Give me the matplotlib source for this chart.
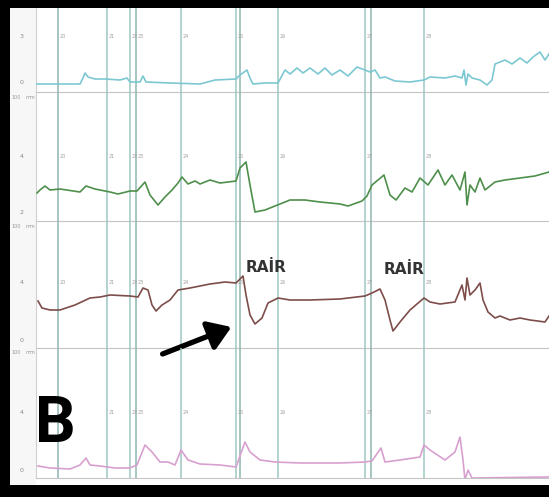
import matplotlib
matplotlib.use("Agg")
import matplotlib.pyplot as plt
import numpy as np

# time axis (s), shared by all four channels
event_t = [22, 71, 94, 100, 145, 200, 204, 242, 329, 335, 388]
event_tags = ["20", "21", "22", "23", "24", "25", "", "26", "27", "", "28"]

# channel 1 (cyan)
ch1_t = [0, 14, 44, 47, 49, 52, 59, 69, 84, 91, 94, 104, 107, 110, 134, 164, 179, 200, 204,
         211, 214, 217, 229, 242, 249, 254, 261, 267, 274, 282, 289, 296, 304, 312, 321, 329,
         334, 339, 344, 349, 359, 374, 388, 394, 409, 419, 426, 428, 430, 432, 436, 444, 451,
         456, 459, 469, 476, 484, 491, 497, 504, 509, 513]
ch1_p = [8, 8, 8, 14, 19, 15, 13, 13, 12, 14, 10, 10, 16, 10, 9, 8, 12, 13, 17,
         22, 14, 8, 9, 9, 22, 18, 24, 19, 24, 18, 24, 17, 22, 16, 25, 22,
         20, 22, 14, 15, 11, 10, 12, 15, 14, 16, 14, 22, 7, 18, 14, 12, 7,
         12, 28, 32, 28, 34, 29, 35, 40, 32, 38]

# channel 2 (green)
ch2_t = [1, 4, 9, 14, 24, 44, 50, 59, 74, 82, 94, 101, 109, 114, 122, 129, 136, 142, 146,
         152, 159, 164, 174, 184, 200, 204, 210, 214, 219, 229, 239, 254, 269, 284, 304, 312,
         326, 331, 336, 348, 354, 360, 369, 376, 384, 392, 402, 409, 416, 424, 429, 431, 434,
         439, 444, 449, 459, 469, 484, 499, 513]
ch2_p = [28, 31, 35, 31, 32, 29, 35, 32, 29, 27, 30, 30, 39, 26, 16, 24, 31, 38, 44,
         37, 40, 37, 41, 38, 40, 53, 59, 36, 9, 11, 15, 21, 21, 19, 17, 15,
         20, 25, 36, 46, 26, 21, 33, 29, 43, 36, 51, 36, 46, 31, 49, 16, 36,
         29, 43, 31, 39, 41, 43, 45, 49]

# channel 3 (brown)
ch3_t = [2, 6, 14, 24, 39, 54, 64, 74, 94, 102, 107, 112, 116, 120, 126, 134, 142, 154, 174,
         189, 200, 207, 210, 214, 219, 226, 232, 242, 254, 274, 304, 329, 336, 344, 349, 354,
         357, 364, 374, 388, 394, 404, 419, 426, 429, 431, 434, 439, 444, 447, 452, 459, 464,
         474, 484, 494, 509, 513]
ch3_p = [47, 40, 38, 38, 43, 50, 51, 53, 52, 51, 60, 58, 43, 37, 43, 48, 58, 60, 64,
         66, 65, 72, 53, 33, 24, 30, 45, 50, 48, 48, 49, 52, 55, 59, 48, 28,
         17, 26, 38, 50, 46, 44, 46, 63, 48, 70, 53, 58, 65, 48, 36, 30, 32,
         28, 30, 28, 26, 32]

# channel 4 (pink)
ch4_t = [2, 14, 34, 44, 50, 54, 64, 79, 94, 101, 109, 116, 124, 132, 139, 145, 152, 164, 184,
         200, 209, 214, 224, 239, 264, 304, 329, 336, 345, 349, 364, 384, 388, 394, 409, 419,
         424, 427, 429, 432, 436, 513]
ch4_p = [12, 10, 9, 13, 20, 13, 12, 10, 10, 13, 33, 26, 16, 16, 13, 28, 18, 14, 13,
         11, 36, 26, 18, 16, 15, 15, 16, 17, 30, 16, 18, 21, 33, 28, 18, 26,
         41, 18, -2, 8, 0, 1]

channels = [
    (ch1_t, ch1_p, "#7cc8d2", 84, ["3", "0"], [56, 9]),
    (ch2_t, ch2_p, "#4f8f4c", 129, ["4", "2"], [65, 9]),
    (ch3_t, ch3_p, "#7d4d4a", 127, ["4", "0"], [65, 8]),
    (ch4_t, ch4_p, "#d7a0cf", 130, ["4", "0"], [65, 8]),
]

W, H = 549, 497
fig = plt.figure(figsize=(W / 100, H / 100), dpi=100, facecolor="black")

def box(x0, y0, x1, y1):
    return [x0 / W, 1 - y1 / H, (x1 - x0) / W, (y1 - y0) / H]

# white sheet + grey label margin
bg = fig.add_axes(box(10, 8, W, 485))
bg.set_facecolor("white")
bg.set_xticks([]); bg.set_yticks([])
for s in bg.spines.values():
    s.set_visible(False)
margin = fig.add_axes(box(10, 8, 36, 485))
margin.set_facecolor("#f7f7f7")
margin.set_xticks([]); margin.set_yticks([])
for s in margin.spines.values():
    s.set_visible(False)

edges = [8, 92, 221, 348, 478]
axes = []
for i, (t, p, col, h, labs, lab_pos) in enumerate(channels):
    ax = fig.add_axes(box(36, edges[i], W, edges[i + 1]))
    ax.set_facecolor("none")
    ax.set_xlim(0, 513)
    ax.set_ylim(0, h)
    ax.set_xticks([]); ax.set_yticks([])
    for s in ax.spines.values():
        s.set_visible(False)
    ax.spines["bottom"].set_visible(True)
    ax.spines["bottom"].set_color("#c4c4c4")
    ax.spines["left"].set_visible(True)
    ax.spines["left"].set_color("#d0d0d0")
    for k, et in enumerate(event_t):
        ax.axvline(et, color="#9cc8c2" if k % 3 else "#8fb5b0", lw=1.1, zorder=1)
        if event_tags[k] and not (i == 3 and et < 40):
            ax.text(et + 2, lab_pos[0], event_tags[k], fontsize=3.5, color="#a0a0a0",
                    va="center", ha="left")
    ax.plot(t, p, color=col, lw=1.2, zorder=3)
    for lab, y in zip(labs, lab_pos):
        ax.text(-14, y, lab, fontsize=4.5, color="#888888", ha="center", va="center",
                clip_on=False)
    if i > 0:
        ax.text(-20, h - 5, "100", fontsize=3.5, color="#999999", ha="center",
                va="center", clip_on=False)
        ax.text(-6, h - 5, "mm", fontsize=3.5, color="#999999", ha="center",
                va="center", clip_on=False)
    axes.append(ax)

ax3 = axes[2]
ax3.text(230, 80, "RAİR", fontsize=11, fontweight="bold", color="#333333",
         ha="center", va="center")
ax3.text(368, 78, "RAİR", fontsize=11, fontweight="bold", color="#333333",
         ha="center", va="center")
ax3.annotate("", xy=(198, 22), xytext=(124, -7),
             arrowprops=dict(arrowstyle="-|>,head_length=0.9,head_width=0.6",
                             lw=3.8, color="black", mutation_scale=15),
             annotation_clip=False, zorder=6)

axes[3].text(-1, 36, "B", fontsize=46, fontweight="bold", color="black",
             family=["Roboto", "DejaVu Sans"],
             ha="left", va="baseline", zorder=6)

fig.savefig("out.png", dpi=100, facecolor="black")
